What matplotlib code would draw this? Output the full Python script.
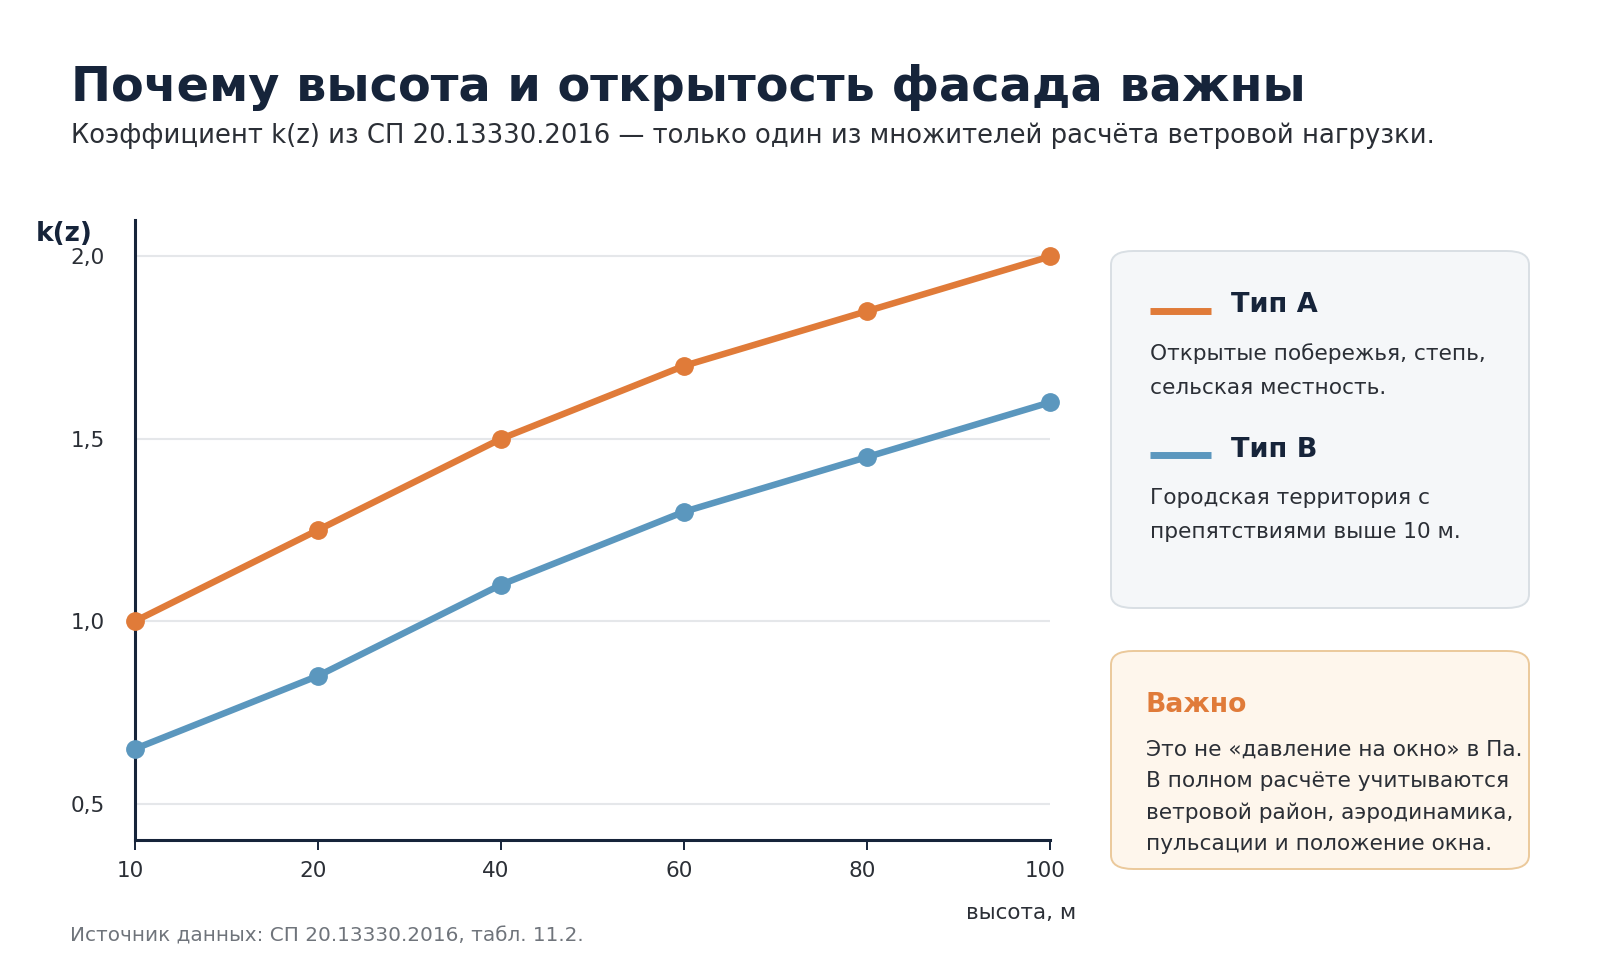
import matplotlib
matplotlib.use('Agg')
import matplotlib.pyplot as plt
import matplotlib.transforms as mtransforms
from matplotlib.patches import FancyBboxPatch
from matplotlib.lines import Line2D
from matplotlib.ticker import FuncFormatter

plt.rcParams['font.family'] = ['DejaVu Sans']

heights = [10, 20, 40, 60, 80, 100]
type_a = [1.0, 1.25, 1.5, 1.7, 1.85, 2.0]
type_b = [0.65, 0.85, 1.1, 1.3, 1.45, 1.6]
y_ticks = [0.5, 1.0, 1.5, 2.0]

ORANGE = '#E07B39'
BLUE = '#5B97BE'
NAVY = '#16243A'
TEXT = '#2B2F36'

W, H = 1600, 980
fig = plt.figure(figsize=(W / 100, H / 100), dpi=100)


def fx(px):
    return px / W


def fy(py):
    return 1 - py / H


ax = fig.add_axes([fx(135), fy(840), fx(1050) - fx(135), fy(220) - fy(840)])
xs = list(range(len(heights)))
ax.plot(xs, type_a, color=ORANGE, lw=4.7, marker='o', ms=12.5, solid_capstyle='round', zorder=3, clip_on=False)
ax.plot(xs, type_b, color=BLUE, lw=4.7, marker='o', ms=12.5, solid_capstyle='round', zorder=3, clip_on=False)

ax.set_xlim(0, len(heights) - 1)
ax.set_ylim(0.4, 2.1)
ax.set_xticks(xs)
ax.set_xticklabels([str(h) for h in heights])
ax.set_yticks(y_ticks)
ax.yaxis.set_major_formatter(FuncFormatter(lambda v, p: f'{v:.1f}'.replace('.', ',')))
ax.grid(axis='y', color='#E5E7EA', lw=1.5)
ax.set_axisbelow(True)
for s in ('top', 'right'):
    ax.spines[s].set_visible(False)
for s in ('left', 'bottom'):
    ax.spines[s].set_color(NAVY)
    ax.spines[s].set_linewidth(2.2)
ax.tick_params(axis='y', length=0, pad=22, labelsize=15.5, labelcolor=TEXT)
ax.tick_params(axis='x', length=7, width=1.4, color=NAVY, pad=8, labelsize=15.5, labelcolor=TEXT)
# tick labels sit a little left of their ticks in the original
shift = mtransforms.ScaledTranslation(-5 / 100, 0, fig.dpi_scale_trans)
for lab in ax.get_xticklabels():
    lab.set_transform(lab.get_transform() + shift)

# titles
fig.text(fx(71), fy(101), 'Почему высота и открытость фасада важны', fontsize=34.5,
         fontweight='bold', color=NAVY, va='baseline', ha='left')
fig.text(fx(71), fy(143), 'Коэффициент k(z) из СП 20.13330.2016 — только один из множителей расчёта ветровой нагрузки.',
         fontsize=18.6, color=TEXT, va='baseline', ha='left')
fig.text(fx(64), fy(241), 'k(z)', fontsize=19, fontweight='bold', color=NAVY, va='baseline', ha='center')
fig.text(fx(1076), fy(913), 'высота, м', fontsize=15.5, color=TEXT, va='center', ha='right')
fig.text(fx(70), fy(936), 'Источник данных: СП 20.13330.2016, табл. 11.2.', fontsize=14.4,
         color='#6F747B', va='center', ha='left')

# legend box
box1 = FancyBboxPatch((fx(1111), fy(608)), fx(1529) - fx(1111), fy(251) - fy(608),
                      boxstyle='round,pad=0,rounding_size=0.014', transform=fig.transFigure,
                      facecolor='#F5F7F9', edgecolor='#D9DFE4', lw=1.4)
fig.add_artist(box1)
for yl, col, name, lines in [(312.5, ORANGE, 'Тип A', ['Открытые побережья, степь,', 'сельская местность.']),
                             (457, BLUE, 'Тип B', ['Городская территория с', 'препятствиями выше 10 м.'])]:
    fig.add_artist(Line2D([fx(1150), fx(1211)], [fy(yl - 1.5), fy(yl - 1.5)], transform=fig.transFigure,
                          color=col, lw=5, solid_capstyle='butt'))
    fig.text(fx(1231), fy(yl), name, fontsize=19.5, fontweight='bold', color=NAVY, va='baseline', ha='left')
    for i, t in enumerate(lines):
        fig.text(fx(1150), fy(yl + 47 + 34 * i), t, fontsize=15.6, color=TEXT, va='baseline', ha='left')

# note box
box2 = FancyBboxPatch((fx(1111), fy(869)), fx(1529) - fx(1111), fy(651) - fy(869),
                      boxstyle='round,pad=0,rounding_size=0.014', transform=fig.transFigure,
                      facecolor='#FEF6EC', edgecolor='#EBC99B', lw=1.4)
fig.add_artist(box2)
fig.text(fx(1146), fy(711.5), 'Важно', fontsize=19.2, fontweight='bold', color=ORANGE, va='baseline', ha='left')
note = ['Это не «давление на окно» в Па.', 'В полном расчёте учитываются',
        'ветровой район, аэродинамика,', 'пульсации и положение окна.']
for i, t in enumerate(note):
    fig.text(fx(1146), fy(756 + 31.3 * i), t, fontsize=15.6, color=TEXT, va='baseline', ha='left')

fig.savefig('out.png', dpi=100, facecolor='white')
